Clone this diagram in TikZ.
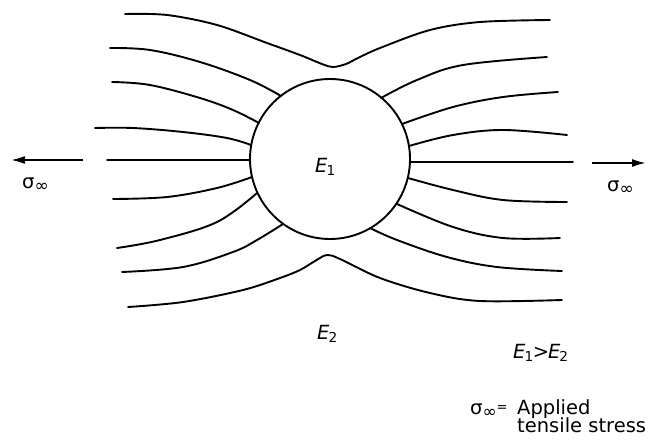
\documentclass[tikz,border=0pt]{standalone}
\usepackage{fontspec}
\setmainfont{DejaVu Sans}
\usetikzlibrary{arrows.meta}
\newcommand\sinf{σ\raisebox{-0.3ex}{\fontsize{17}{17}\selectfont ∞}}
\newcommand\Esub[1]{{\itshape E}\kern-0.05em\textsubscript{#1}}
\begin{document}
\begin{tikzpicture}[x=1pt,y=-1pt,
  flow/.style={line width=1.9pt, line join=round, line cap=round},
  lbl/.style={font=\fontsize{19.5}{19.5}\selectfont, inner sep=0pt, anchor=base west},
  load/.style={line width=1.9pt, -{Latex[length=14pt,width=8pt]}}]
\useasboundingbox (0,0) rectangle (652,441);

% inclusion
\node[draw, circle, line width=1.9pt, minimum size=160pt, inner sep=0pt] (inc) at (330,159) {};

% flow lines, left side
\draw[flow] plot[smooth, tension=0.55] coordinates {(125,14) (167,15) (217,25) (267,43) (300,55) (322,64) (333,67) (346,64) (358,58) (380,48) (430,30) (480,22) (550,20)};
\draw[flow] plot[smooth, tension=0.6] coordinates {(110,48) (150,50) (200,62) (250,80) (281,96)};
\draw[flow] plot[smooth, tension=0.6] coordinates {(112,82) (150,85) (200,98) (233,110) (259,123)};
\draw[flow] plot[smooth, tension=0.6] coordinates {(95,128) (133,128) (183,132) (227,138) (251,145)};
\draw[flow] (107,160) -- (250,160);
\draw[flow] plot[smooth, tension=0.6] coordinates {(113,199) (167,197) (217,188) (252,177)};
\draw[flow] plot[smooth, tension=0.6] coordinates {(117,248) (160,240) (217,222) (257,193)};
\draw[flow] plot[smooth, tension=0.6] coordinates {(122,272) (183,267) (233,252) (257,240) (283,224)};
\draw[flow] plot[smooth, tension=0.55] coordinates {(128,307) (183,302) (243,290) (280,278) (300,270) (315,261) (327,255) (340,259) (380,278) (430,293) (480,301) (562,300)};

% flow lines, right side
\draw[flow] plot[smooth, tension=0.6] coordinates {(381,98) (417,80) (463,65) (547,57)};
\draw[flow] plot[smooth, tension=0.6] coordinates {(402,124) (453,107) (503,97) (558,92)};
\draw[flow] plot[smooth, tension=0.6] coordinates {(409,146) (453,135) (503,130) (567,135)};
\draw[flow] (410,162) -- (573,162);
\draw[flow] plot[smooth, tension=0.6] coordinates {(408,178) (453,190) (503,200) (567,202)};
\draw[flow] plot[smooth, tension=0.6] coordinates {(397,204) (453,227) (503,238) (560,238)};
\draw[flow] plot[smooth, tension=0.6] coordinates {(370,228) (397,240) (447,257) (497,267) (562,271)};

% applied load arrows
\coordinate (la0) at (83,160);
\coordinate (la1) at (11,160);
\coordinate (ra0) at (592,163);
\coordinate (ra1) at (646,163);
\draw[load] (la0) -- (la1);
\draw[load] (ra0) -- (ra1);

% labels
\node[lbl] (sl) at (22,188) {\sinf};
\node[lbl] (sr) at (607,191) {\sinf};
\node[lbl] (e1) at (315,172) {\Esub{1}};
\node[lbl] (e2) at (317,339) {\Esub{2}};
\node[lbl] (cmp) at (513,358) {\Esub{1}\kern-0.05em>\kern-0.05em\Esub{2}};
\node[lbl] (sdef) at (470,414) {\sinf\raisebox{0.2ex}{\fontsize{13}{13}\selectfont =}};
\node[lbl] (app) at (517,414) {Applied};
\node[lbl] (ten) at (517,432) {tensile stress};
\end{tikzpicture}
\end{document}
